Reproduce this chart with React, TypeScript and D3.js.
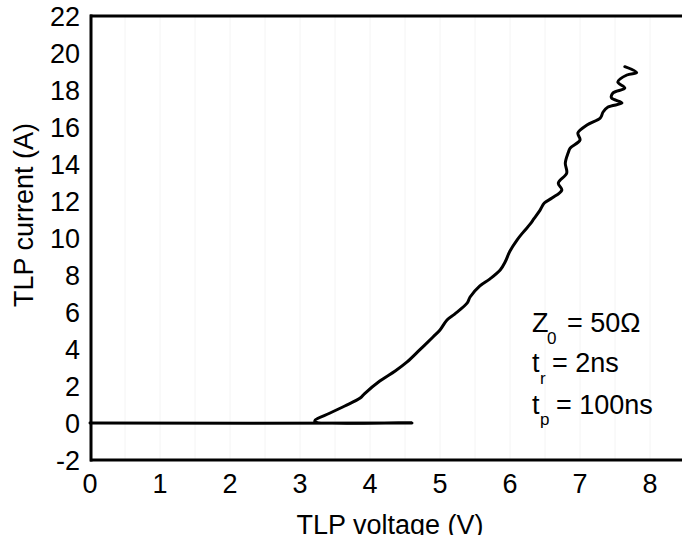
import React from "react";
import * as d3 from "d3";

const xTicks = [0, 1, 2, 3, 4, 5, 6, 7, 8];
const yTicks = [-2, 0, 2, 4, 6, 8, 10, 12, 14, 16, 18, 20, 22];
const gridX = [0.5, 1, 1.5, 2, 2.5, 3, 3.5, 4, 4.5, 5, 5.5, 6, 6.5, 7, 7.5, 8];

// TLP trace: voltage (V), current (A)
const voltage = [
  0, 4.6, 3.21, 3.43, 3.64, 3.86, 3.92, 4.14, 4.36, 4.53, 4.71, 4.9, 5.0, 5.1, 5.21,
  5.39, 5.43, 5.57, 5.71, 5.86, 5.93, 6.0, 6.1, 6.19, 6.29, 6.34, 6.43, 6.49, 6.6,
  6.74, 6.69, 6.81, 6.79, 6.83, 6.86, 7.0, 6.97, 7.1, 7.29, 7.33, 7.4, 7.6, 7.45,
  7.47, 7.64, 7.54, 7.67, 7.81, 7.64,
];
const current = [
  0, 0, 0.11, 0.54, 0.92, 1.35, 1.58, 2.27, 2.81, 3.3, 3.95, 4.65, 5.03, 5.57, 5.89,
  6.49, 6.81, 7.41, 7.78, 8.27, 8.7, 9.3, 9.89, 10.32, 10.76, 11.03, 11.51, 11.89, 12.16,
  12.59, 12.97, 13.51, 14.05, 14.59, 14.86, 15.3, 15.68, 16.11, 16.49, 16.81, 17.08, 17.3, 17.57,
  17.84, 18.11, 18.43, 18.81, 18.94, 19.26,
];

const W = 682;
const H = 535;

export default function App() {
  const x = d3.scaleLinear().domain([0, 8]).range([90, 650]);
  const y = d3.scaleLinear().domain([-2, 22]).range([460, 16]);
  const pts: [number, number][] = voltage.map((v, i) => [v, current[i]]);
  const line = d3
    .line<[number, number]>()
    .x((d) => x(d[0]))
    .y((d) => y(d[1]))
    .curve(d3.curveCatmullRom.alpha(0.5));
  const font = "'Liberation Sans', Arial, sans-serif";
  const fs = 27;
  const sub = 17;
  return (
    <svg
      width={W}
      height={H}
      style={{ position: "absolute", left: 0, top: 0, display: "block", background: "#fff" }}
      fontFamily={font}
    >
      <rect x={0} y={0} width={W} height={H} fill="#fff" />
      {gridX.map((g) => (
        <line key={g} x1={x(g)} x2={x(g)} y1={y(22)} y2={y(-2)} stroke="#f4f4f4" strokeWidth={1} />
      ))}
      {/* frame */}
      <line x1={x(0)} x2={W} y1={y(22)} y2={y(22)} stroke="#000" strokeWidth={3} />
      <line x1={x(0)} x2={W} y1={y(-2)} y2={y(-2)} stroke="#000" strokeWidth={3} />
      <line x1={x(0) + 1} x2={x(0) + 1} y1={y(22) - 1.5} y2={y(-2) + 1.5} stroke="#000" strokeWidth={3} />
      {/* data */}
      <path d={line(pts) || ""} fill="none" stroke="#000" strokeWidth={3} strokeLinejoin="round" strokeLinecap="round" />
      {/* y ticks */}
      {yTicks.map((t) => (
        <text key={t} x={80} y={y(t)} dy="0.36em" textAnchor="end" fontSize={fs} fill="#000">
          {t}
        </text>
      ))}
      {xTicks.map((t) => (
        <text key={t} x={x(t)} y={493} textAnchor="middle" fontSize={fs} fill="#000">
          {t}
        </text>
      ))}
      <text transform="translate(33,215) rotate(-90)" textAnchor="middle" fontSize={fs} fill="#000">
        TLP current (A)
      </text>
      <text x={390} y={534} textAnchor="middle" fontSize={fs} fill="#000">
        TLP voltage (V)
      </text>
      {/* annotation */}
      <text x={532} y={332} fontSize={fs} fill="#000">Z</text>
      <text x={547} y={344} fontSize={sub} fill="#000">0</text>
      <text x={567} y={332} fontSize={fs} fill="#000">= 50Ω</text>
      <text x={532} y={372} fontSize={fs} fill="#000">t</text>
      <text x={540} y={384} fontSize={sub} fill="#000">r</text>
      <text x={552} y={372} fontSize={fs} fill="#000">= 2ns</text>
      <text x={532} y={414} fontSize={fs} fill="#000">t</text>
      <text x={540} y={425} fontSize={sub} fill="#000">p</text>
      <text x={556} y={414} fontSize={fs} fill="#000">= 100ns</text>
    </svg>
  );
}
